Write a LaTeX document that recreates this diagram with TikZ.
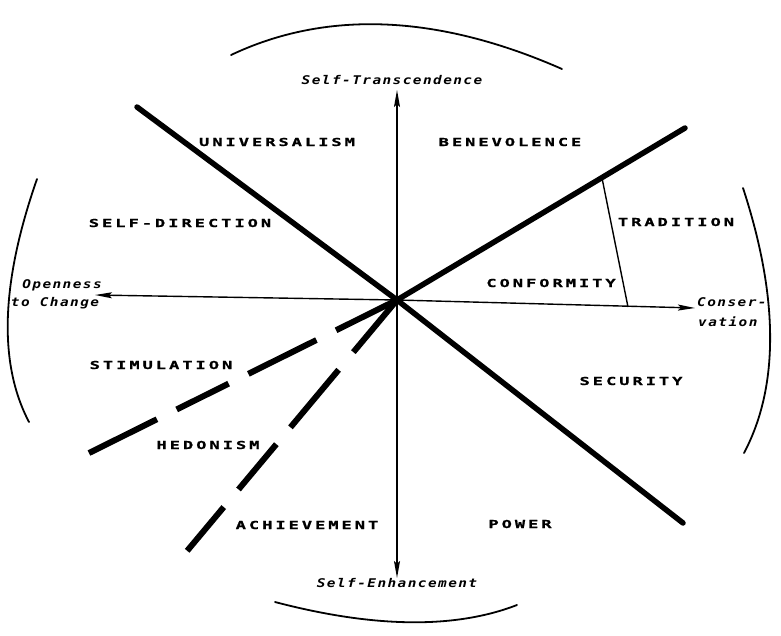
\documentclass[tikz,border=0pt]{standalone}
\usepackage{fontspec}
\usetikzlibrary{arrows.meta}
\newfontfamily\lblfont{DejaVu Sans Mono Bold}[FakeStretch=1.55,LetterSpace=27,FakeBold=1]
\newfontfamily\axfont{DejaVu Sans Mono Bold Oblique}[FakeStretch=1.2,LetterSpace=12]
\begin{document}
\begin{tikzpicture}[x=1pt,y=-1pt,
  thickline/.style={line width=5.5pt, line cap=round},
  dashA/.style={line width=6pt, dash pattern=on 68pt off 22pt on 76pt off 22pt on 58pt off 22pt on 76pt off 40pt},
  dashB/.style={line width=6pt, dash pattern=on 68pt off 23pt on 75pt off 22pt on 59pt off 23pt on 57pt off 40pt},
  axisline/.style={line width=1.4pt, -{Stealth[length=17pt,width=6pt,inset=3pt]}},
  thin/.style={line width=1.4pt},
  arcline/.style={line width=1.8pt, line cap=round},
  val/.style={font=\lblfont\fontsize{11}{13}\selectfont, inner sep=0pt},
  ax/.style={font=\axfont\fontsize{12}{14}\selectfont, inner sep=0pt}]
\useasboundingbox (0,0) rectangle (781,635);
\fill[white] (0,0) rectangle (781,635);

% coordinates
\coordinate (O) at (397,300);
\coordinate (UL) at (137,107);
\coordinate (LR) at (683,523);
\coordinate (UR) at (685,128);
\coordinate (DA) at (87,454);
\coordinate (DB) at (187,551);
\coordinate (N) at (397,90);
\coordinate (S) at (397,578);
\coordinate (W) at (95,295);
\coordinate (E) at (695,308);
\coordinate (T1) at (602,178);
\coordinate (T2) at (628,307);

% outer arcs
\draw[arcline] (231,55) .. controls (326,10) and (437,14) .. (562,69);
\draw[arcline] (37,179) .. controls (1,282) and (-2,363) .. (29,422);
\draw[arcline] (743,188) .. controls (779,298) and (779,387) .. (744,453);
\draw[arcline] (275,602) .. controls (374,628) and (455,629) .. (517,605);

% axes
\draw[axisline] (O) -- (N);
\draw[axisline] (O) -- (S);
\draw[axisline] (O) -- (W);
\draw[axisline] (O) -- (E);

% thick lines
\draw[thickline] (UL) -- (O) -- (LR);
\draw[thickline] (UR) -- (O);
\draw[dashA] (O) -- (DA);
\draw[dashB] (O) -- (DB);
\draw[thin] (T1) -- (T2);

% axis labels
\node[ax] (st) at (392,80) {Self-Transcendence};
\node[ax] (se) at (397,583) {Self-Enhancement};
\node[ax] (op1) at (62,285) {Openness};
\node[ax] (op2) at (55,303) {to Change};
\node[ax, anchor=west] (co1) at (697,302) {Conser-};
\node[ax, anchor=west] (co2) at (698,322) {vation};

% value labels
\node[val] (univ) at (277,142) {UNIVERSALISM};
\node[val] (bene) at (510,142) {BENEVOLENCE};
\node[val] (sd) at (180,223) {SELF-DIRECTION};
\node[val] (trad) at (676,222) {TRADITION};
\node[val] (conf) at (551,283) {CONFORMITY};
\node[val] (stim) at (161,365) {STIMULATION};
\node[val] (sec) at (631,381) {SECURITY};
\node[val] (hed) at (208,445) {HEDONISM};
\node[val] (ach) at (307,525) {ACHIEVEMENT};
\node[val] (pow) at (520,524) {POWER};
\end{tikzpicture}
\end{document}
